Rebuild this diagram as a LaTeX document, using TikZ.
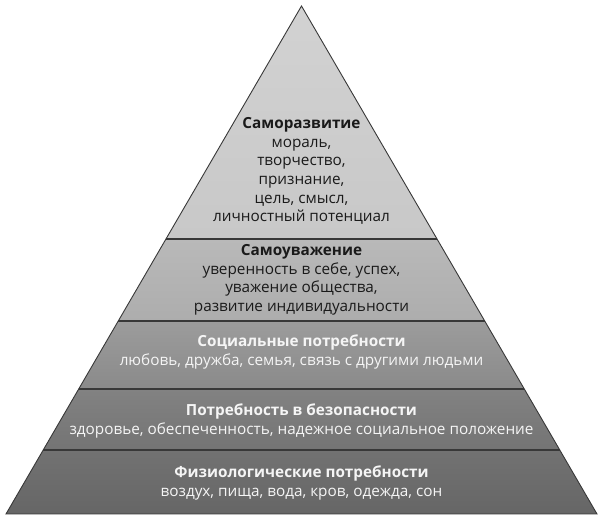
\documentclass[tikz,border=0pt]{standalone}
\usepackage{fontspec}
\setmainfont{Open Sans}
\usetikzlibrary{calc}
\definecolor{layAt}{HTML}{D2D2D2}
\definecolor{layAb}{HTML}{C8C8C8}
\definecolor{layBt}{HTML}{B9B9B9}
\definecolor{layBb}{HTML}{ADADAD}
\definecolor{layCt}{HTML}{9C9C9C}
\definecolor{layCb}{HTML}{8A8A8A}
\definecolor{layDt}{HTML}{828282}
\definecolor{layDb}{HTML}{747474}
\definecolor{layEt}{HTML}{727272}
\definecolor{layEb}{HTML}{666666}
\definecolor{linecol}{HTML}{383838}
\definecolor{darktext}{HTML}{1A1A1A}
\definecolor{lighttext}{HTML}{F5F5F5}
\begin{document}
\begin{tikzpicture}[x=1pt,y=1pt,
  txt/.style={align=center, font=\fontsize{15.3}{18.6}\selectfont, inner sep=0pt},
  dark/.style={txt, text=darktext},
  light/.style={txt, text=lighttext},
  sepline/.style={draw=linecol, line width=1.6pt},
  outline/.style={draw=linecol, line width=0.9pt, line join=miter}]
\useasboundingbox (0,0) rectangle (603,521);
\coordinate (A) at (301.5,515);
\coordinate (BL) at (6,7);
\coordinate (BR) at (597,7);
\foreach \n/\t in {1/0.4587,2/0.6201,3/0.7539,4/0.8740}{
  \coordinate (L\n) at ($(A)!\t!(BL)$);
  \coordinate (R\n) at ($(A)!\t!(BR)$);
}
\shade[top color=layAt, bottom color=layAb] (A) -- (L1) -- (R1) -- cycle;
\shade[top color=layBt, bottom color=layBb] (L1) -- (L2) -- (R2) -- (R1) -- cycle;
\shade[top color=layCt, bottom color=layCb] (L2) -- (L3) -- (R3) -- (R2) -- cycle;
\shade[top color=layDt, bottom color=layDb] (L3) -- (L4) -- (R4) -- (R3) -- cycle;
\shade[top color=layEt, bottom color=layEb] (L4) -- (BL) -- (BR) -- (R4) -- cycle;
\draw[sepline] (L1) -- (R1);
\draw[sepline] (L2) -- (R2);
\draw[sepline] (L3) -- (R3);
\draw[sepline] (L4) -- (R4);
\draw[outline] (A) -- (BL) -- (BR) -- cycle;

\node[dark] (t1) at (301.5,350) {\textbf{Саморазвитие}\\мораль,\\творчество,\\признание,\\цель, смысл,\\личностный потенциал};
\node[dark] (t2) at (301.5,241) {\textbf{Самоуважение}\\уверенность в себе, успех,\\уважение общества,\\развитие индивидуальности};
\node[light] (t3) at (301.5,169) {\textbf{Социальные потребности}\\любовь, дружба, семья, связь с другими людьми};
\node[light] (t4) at (301.5,100) {\textbf{Потребность в безопасности}\\здоровье, обеспеченность, надежное социальное положение};
\node[light] (t5) at (301.5,38) {\textbf{Физиологические потребности}\\воздух, пища, вода, кров, одежда, сон};
\end{tikzpicture}
\end{document}
